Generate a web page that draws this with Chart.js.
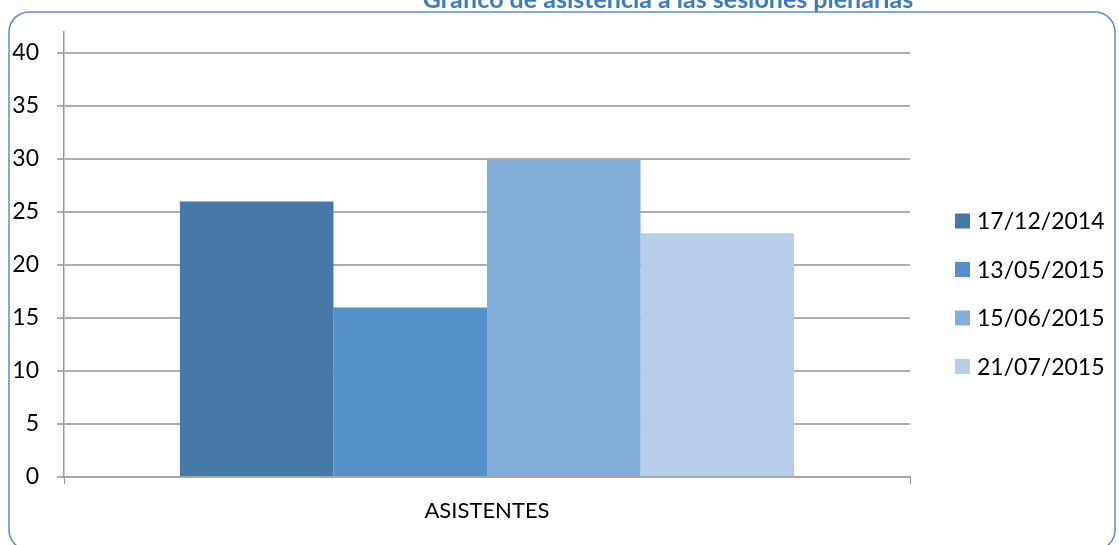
<!DOCTYPE html>
<html>
<head>
<meta charset="utf-8">
<script src="https://cdn.jsdelivr.net/npm/chart.js@4"></script>
<style>
    body { margin: 0; background: #fff; }
    #wrap { width: 1119px; height: 545px; position: relative; }
</style>
</head>
<body>
<div id="wrap"><canvas id="asistenciaChart" width="1119" height="545"></canvas></div>
<script>
// Chart data
const categories = ['ASISTENTES'];
const sessionDates = ['17/12/2014', '13/05/2015', '15/06/2015', '21/07/2015'];
const attendance = [26, 16, 30, 23];
const barColors = ['#4679A8', '#5491C8', '#85AFDB', '#B8CDE7'];
const yTicks = [0, 5, 10, 15, 20, 25, 30, 35, 40];
const chartTitle = 'Gráfico de asistencia a las sesiones plenarias';

const FONT = 'Lato, "Open Sans", sans-serif';

// Frame, clipped title and legend
const decorPlugin = {
    id: 'decor',
    afterDraw(chart) {
        const ctx = chart.ctx;
        ctx.save();
        ctx.strokeStyle = '#5B8DCB';
        ctx.lineWidth = 1.5;
        ctx.beginPath();
        ctx.roundRect(9, 12, 1106, 538, 20);
        ctx.stroke();

        ctx.fillStyle = '#3B7BC0';
        ctx.font = 'bold 25px ' + FONT;
        ctx.textAlign = 'center';
        ctx.textBaseline = 'alphabetic';
        ctx.fillText(chartTitle, 668, 8);

        ctx.textAlign = 'left';
        ctx.textBaseline = 'middle';
        ctx.font = '23px ' + FONT;
        chart.data.datasets.forEach(function(ds, i) {
            const y = 221 + i * 48.5;
            ctx.fillStyle = ds.backgroundColor;
            ctx.fillRect(955, y - 7.5, 15, 15);
            ctx.fillStyle = '#000';
            ctx.fillText(ds.label, 977, y + 1);
        });
        ctx.restore();
    }
};

const ctx = document.getElementById('asistenciaChart').getContext('2d');
const chart = new Chart(ctx, {
    type: 'bar',
    data: {
        labels: categories,
        datasets: sessionDates.map(function(d, i) {
            return {
                label: d,
                data: [attendance[i]],
                backgroundColor: barColors[i],
                borderWidth: 0
            };
        })
    },
    options: {
        responsive: false,
        animation: false,
        layout: { padding: { left: 0, right: 209, top: 29, bottom: 0 } },
        datasets: {
            bar: { barPercentage: 1, categoryPercentage: 0.726 }
        },
        plugins: {
            legend: { display: false },
            title: { display: false },
            tooltip: { enabled: false }
        },
        scales: {
            x: {
                grid: { display: true, drawOnChartArea: false, drawTicks: true, tickLength: 7, color: '#9a9a9a' },
                border: { color: '#a6a6a6', width: 2 },
                ticks: { color: '#000', font: { family: FONT, size: 22 }, padding: 14 },
                afterFit(scale) { scale.height = 68; }
            },
            y: {
                min: 0,
                max: 42,
                afterBuildTicks(scale) { scale.ticks = yTicks.map(v => ({ value: v })); },
                grid: { color: '#adadad', lineWidth: 2, tickLength: 7 },
                border: { color: '#9a9a9a', width: 1.5 },
                ticks: { color: '#000', font: { family: FONT, size: 23 }, padding: 18 },
                afterFit(scale) { scale.width = 64; }
            }
        }
    },
    plugins: [decorPlugin]
});
</script>
</body>
</html>
